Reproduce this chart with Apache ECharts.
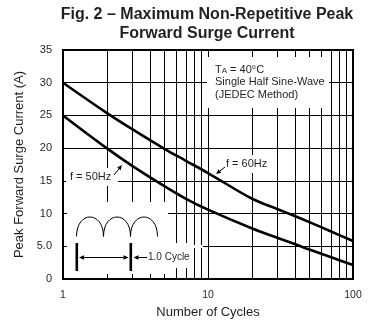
<!DOCTYPE html>
<html><head><meta charset="utf-8">
<script src="https://cdn.jsdelivr.net/npm/echarts@6/dist/echarts.min.js"></script>
<style>html,body{margin:0;padding:0;background:#fff}#c{width:383px;height:328px}</style>
</head><body><div id="c"></div>
<script>
// ---- data ----
const cycles     = [1, 2, 3, 5, 7, 10, 20, 30, 40, 50, 70, 100];
const surge60Hz  = [30, 25.4, 22.9, 19.9, 18.1, 16.2, 12.3, 10.7, 9.6, 8.7, 7.3, 5.8];
const surge50Hz  = [25, 20, 17.3, 14.2, 12.3, 10.6, 7.75, 6.3, 5.3, 4.5, 3.35, 2.15];
const minorGridCycles = [2, 3, 4, 5, 6, 7, 8, 9, 20, 30, 40, 50, 60, 70, 80, 90];
const yTickLabels = ['0', '5.0', '10', '15', '20', '25', '30', '35'];
const titleLines = ['Fig. 2 \u2013 Maximum Non-Repetitive Peak', 'Forward Surge Current'];
const noteLines = ['Single Half Sine-Wave', '(JEDEC Method)'];

const FONT = '"Liberation Sans", Arial, Helvetica, sans-serif';
const INK = '#231f20';

const chart = echarts.init(document.getElementById('c'), null, {renderer: 'canvas'});

// minor (2..9, 20..90) vertical grid lines, placed by the log axis
const gridSeries = {
  type: 'custom', z: 1, silent: true, animation: false,
  data: minorGridCycles.map(c => [c, 0]),
  encode: {x: 0, y: 1},
  renderItem: (params, api) => {
    const top = api.coord([api.value(0), 35]);
    const bot = api.coord([api.value(0), 0]);
    const x = Math.round(top[0]) + 0.5;
    return {type: 'line', shape: {x1: x, y1: top[1], x2: x, y2: bot[1]}, style: {stroke: '#000', lineWidth: 1}};
  }
};

function curve(name, vals) {
  return {
    type: 'line', name, data: cycles.map((c, i) => [c, vals[i]]),
    smooth: 0.35, symbol: 'none', z: 5, animation: false,
    lineStyle: {color: '#000', width: 2.6}
  };
}

function whiteRect(x, y, w, h) {
  return {type: 'rect', z: 3, silent: true, shape: {x, y, width: w, height: h}, style: {fill: '#fff'}};
}
function arrow(x1, y1, x2, y2) {
  const dx = x2 - x1, dy = y2 - y1, L = Math.hypot(dx, dy);
  const ux = dx / L, uy = dy / L, hl = 5, hw = 2.2;
  const bx = x2 - ux * hl, by = y2 - uy * hl;
  return [
    {type: 'line', z: 6, silent: true, shape: {x1, y1, x2: bx, y2: by}, style: {stroke: '#000', lineWidth: 1}},
    {type: 'polygon', z: 6, silent: true,
      shape: {points: [[x2, y2], [bx - uy * hw, by + ux * hw], [bx + uy * hw, by - ux * hw]]},
      style: {fill: '#000'}}
  ];
}
function txt(x, y, text, size, extra) {
  return Object.assign({type: 'text', z: 6, silent: true, x, y,
    style: Object.assign({text, fill: INK, font: size + 'px ' + FONT, textVerticalAlign: 'middle'}, extra || {})});
}

// inset waveform: three half-sine arches
const archBase = 236.5, archCtrl = 210.5;
const archX = [76.5, 103.5, 130.5, 157.5];
const arches = [0, 1, 2].map(i => ({
  type: 'bezierCurve', z: 6, silent: true,
  shape: {x1: archX[i], y1: archBase, cpx1: archX[i], cpy1: archCtrl,
          cpx2: archX[i + 1], cpy2: archCtrl, x2: archX[i + 1], y2: archBase},
  style: {stroke: '#000', lineWidth: 1, fill: null}
}));

const graphics = [
  // title
  {type: 'text', z: 6, x: 207, y: 15, style: {text: titleLines[0], textAlign: 'center', textVerticalAlign: 'middle', fill: INK, font: 'bold 16px ' + FONT}},
  {type: 'text', z: 6, x: 207, y: 33.5, style: {text: titleLines[1], textAlign: 'center', textVerticalAlign: 'middle', fill: INK, font: 'bold 16px ' + FONT}},
  // white backgrounds behind annotations
  whiteRect(207, 57, 122, 51),
  whiteRect(222, 155, 49, 18),
  whiteRect(66, 168, 52, 18),
  whiteRect(67, 202, 101, 72),
  whiteRect(132, 243, 58, 25),
  whiteRect(190, 245, 13, 3),
  // conditions note
  {type: 'text', z: 6, x: 215, y: 69.5, style: {
    text: '{t|T}{s|A}{t| = 40\u00B0C}', textVerticalAlign: 'middle',
    rich: {t: {fontSize: 11, fontFamily: FONT, fill: INK, color: INK},
           s: {fontSize: 8, fontFamily: FONT, fill: INK, color: INK, padding: [3, 0, 0, 0]}}}},
  txt(215, 82, noteLines[0], 11),
  txt(215, 95, noteLines[1], 11),
  // curve labels
  txt(70, 177, 'f = 50Hz', 11),
  ...arrow(114, 175, 122, 165),
  txt(226, 164, 'f = 60Hz', 11),
  ...arrow(225, 167, 216, 174),
  // inset
  ...arches,
  {type: 'rect', z: 6, silent: true, shape: {x: 75.5, y: 243, width: 2.6, height: 28}, style: {fill: '#000'}},
  {type: 'rect', z: 6, silent: true, shape: {x: 129.5, y: 243, width: 2.6, height: 28}, style: {fill: '#000'}},
  ...arrow(103, 257.5, 79, 257.5),
  ...arrow(103, 257.5, 128.5, 257.5),
  ...arrow(147, 257.5, 133.5, 257.5),
  txt(148, 257.5, '1.0 Cycle', 10)
];

chart.setOption({
  animation: false,
  backgroundColor: '#fff',
  textStyle: {fontFamily: FONT, color: INK},
  grid: {left: 63, right: 30, top: 50, bottom: 49, show: true, borderColor: '#000', borderWidth: 2, backgroundColor: 'transparent'},
  xAxis: {
    type: 'log', logBase: 10, min: 1, max: 100,
    name: 'Number of Cycles', nameLocation: 'middle', nameGap: 25,
    nameTextStyle: {fontSize: 13, color: INK, fontFamily: FONT},
    axisLine: {lineStyle: {color: '#000', width: 2}},
    axisTick: {show: false},
    axisLabel: {fontSize: 10.5, color: INK, margin: 11, fontFamily: FONT},
    splitLine: {show: true, lineStyle: {color: '#000', width: 1}}
  },
  yAxis: {
    type: 'value', min: 0, max: 35, interval: 5,
    name: 'Peak Forward Surge Current (A)', nameLocation: 'middle', nameGap: 23,
    nameTextStyle: {fontSize: 13, color: INK, fontFamily: FONT},
    axisLine: {show: true, lineStyle: {color: '#000', width: 2}},
    axisTick: {show: false},
    axisLabel: {fontSize: 11, color: INK, margin: 11, fontFamily: FONT,
      formatter: v => yTickLabels[Math.round(v / 5)]},
    splitLine: {show: true, lineStyle: {color: '#000', width: 1}}
  },
  series: [gridSeries, curve('f = 60Hz', surge60Hz), curve('f = 50Hz', surge50Hz)],
  graphic: graphics
});
</script></body></html>
